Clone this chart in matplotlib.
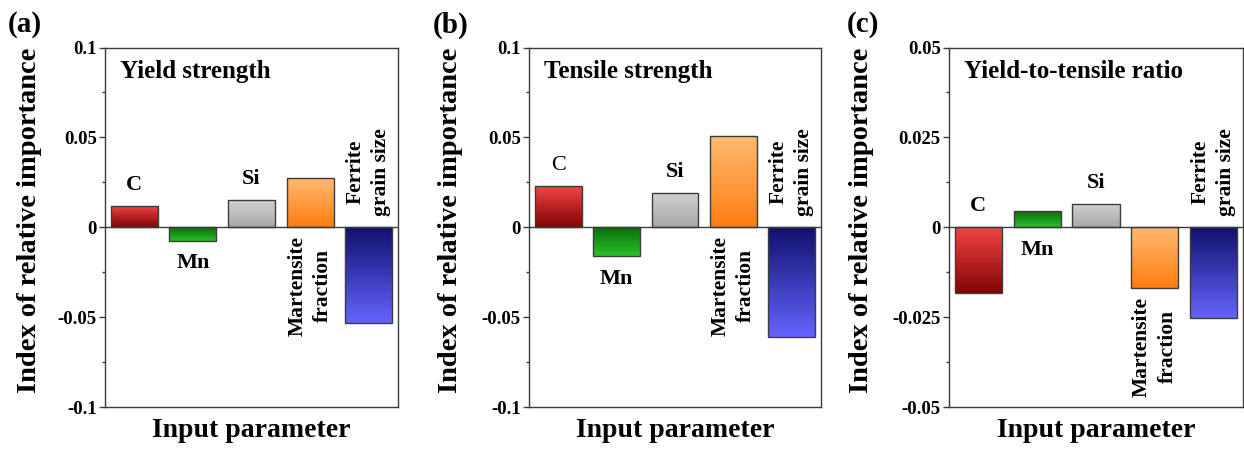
import numpy as np
import matplotlib
matplotlib.use('Agg')
import matplotlib.pyplot as plt
from matplotlib.colors import to_rgb
from matplotlib.ticker import MultipleLocator, FuncFormatter

plt.rcParams['font.family'] = ['Liberation Serif', 'DejaVu Serif']
plt.rcParams['font.weight'] = 'bold'

# data
params = ['C', 'Mn', 'Si', 'Martensite\nfraction', 'Ferrite\ngrain size']
yield_strength = [0.0117, -0.0074, 0.0149, 0.0275, -0.0532]
tensile_strength = [0.0228, -0.0161, 0.0191, 0.0510, -0.0610]
yield_to_tensile = [-0.0182, 0.0044, 0.0065, -0.0170, -0.0252]

panel_titles = ['Yield strength', 'Tensile strength', 'Yield-to-tensile ratio']
panel_tags = ['(a)', '(b)', '(c)']
panel_limits = [0.1, 0.1, 0.05]

# gradient colours (top, bottom) for each parameter
grad_top = ['#f24444', '#0a6e0a', '#d2d2d2', '#ffbb72', '#10106e']
grad_bottom = ['#820404', '#28c028', '#a8a8a8', '#ff7d10', '#6464ff']


def gradient_bars(ax, values):
    x = np.arange(1, len(values) + 1)
    bars = ax.bar(x, values, width=0.8, facecolor='none', edgecolor='#3c3c3c',
                  linewidth=1.0, zorder=3)
    for i, patch in enumerate(bars.patches):
        x0, y0 = patch.get_x(), patch.get_y()
        w, h = patch.get_width(), patch.get_height()
        lo, hi = min(y0, y0 + h), max(y0, y0 + h)
        t = np.linspace(0, 1, 100)[:, None]
        c1, c2 = np.array(to_rgb(grad_top[i])), np.array(to_rgb(grad_bottom[i]))
        img = (1 - t)[:, :, None] * c1 + t[:, :, None] * c2
        im = ax.imshow(img, extent=[x0, x0 + w, lo, hi], origin='upper',
                       aspect='auto', zorder=2, interpolation='bilinear')
        im.set_clip_path(patch)
    return x


fig = plt.figure(figsize=(12.44, 4.5), dpi=100)
lefts = [105, 529, 949]
widths = [293, 292, 294]
label_x = [-0.215, -0.225, -0.255]
tag_x = [8, 433, 847]
series = [yield_strength, tensile_strength, yield_to_tensile]

for k in range(3):
    ax = fig.add_axes([lefts[k] / 1244, 43 / 450, widths[k] / 1244, 359.5 / 450])
    vals = series[k]
    lim = panel_limits[k]
    x = gradient_bars(ax, vals)
    ax.axhline(0, color='#3c3c3c', lw=1.0, zorder=4)
    ax.set_xlim(0.5, len(vals) + 0.5)
    ax.set_ylim(-lim, lim)
    ax.set_xticks([])
    ax.yaxis.set_major_locator(MultipleLocator(lim / 2))
    ax.yaxis.set_minor_locator(MultipleLocator(lim / 4))
    ax.yaxis.set_major_formatter(FuncFormatter(lambda v, p: '%g' % round(v, 4)))
    ax.tick_params(axis='y', which='major', direction='out', length=4, width=1,
                   color='#3c3c3c', labelsize=13.5, pad=2)
    ax.tick_params(axis='y', which='minor', direction='out', length=2.5, width=1,
                   color='#3c3c3c')
    for s in ax.spines.values():
        s.set_color('#3c3c3c')
        s.set_linewidth(1.0)

    ax.set_ylabel('Index of relative importance', fontsize=20.5, fontweight='bold')
    ax.yaxis.set_label_coords(label_x[k], 0.52)
    ax.set_xlabel('Input parameter', fontsize=20, fontweight='bold', labelpad=8)
    ax.text(0.05, 0.965, panel_titles[k], transform=ax.transAxes, fontsize=18,
            fontweight='bold', va='top', ha='left')
    fig.text(tag_x[k] / 1244, 1 - 25 / 450, panel_tags[k], fontsize=21,
             fontweight='bold', va='center', ha='left')

    for i, name in enumerate(params):
        v = vals[i]
        if name in ('C', 'Si'):
            wt = 'normal' if (k == 1 and name == 'C') else 'bold'
            ax.annotate(name, (x[i], max(v, 0)), xytext=(0, 8),
                        textcoords='offset points', ha='center', va='bottom',
                        fontsize=16, fontweight=wt)
        elif name == 'Mn':
            ax.annotate(name, (x[i], min(v, 0)), xytext=(0, -9),
                        textcoords='offset points', ha='center', va='top',
                        fontsize=16, fontweight='bold')
        elif name.startswith('Martensite'):
            ax.annotate(name, (x[i], min(v, 0)), xytext=(0, -6),
                        textcoords='offset points', ha='center', va='top',
                        rotation=90, fontsize=15.5, fontweight='bold',
                        multialignment='center', linespacing=1.35)
        else:
            ax.annotate(name, (x[i], max(v, 0)), xytext=(0, 8),
                        textcoords='offset points', ha='center', va='bottom',
                        rotation=90, fontsize=15.5, fontweight='bold',
                        multialignment='center', linespacing=1.35)

fig.savefig('out.png', dpi=100)
